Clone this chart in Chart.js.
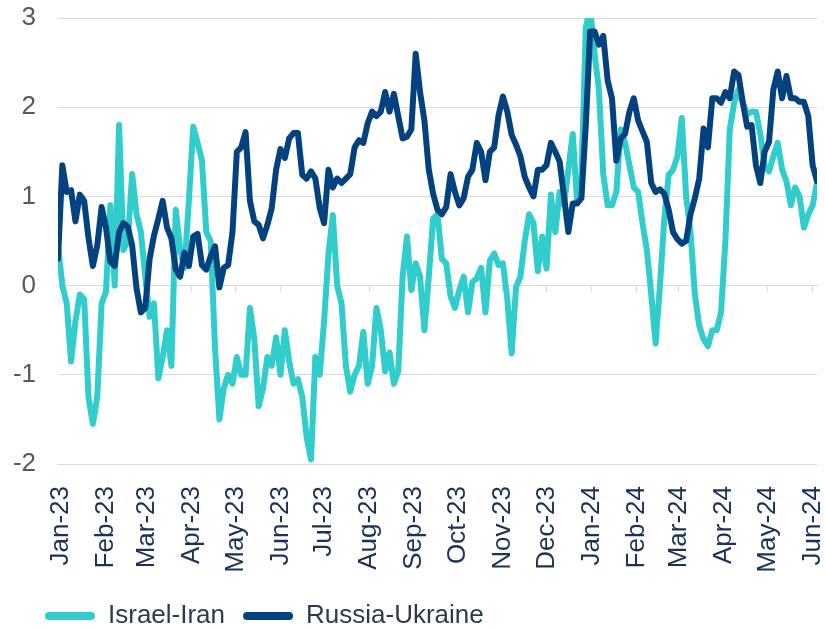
<!DOCTYPE html>
<html>
<head>
<meta charset="utf-8">
<title>Israel-Iran vs Russia-Ukraine</title>
<script src="https://cdn.jsdelivr.net/npm/chart.js@4.4.1/dist/chart.umd.min.js"></script>
<style>
  html, body { margin: 0; padding: 0; background: #ffffff; }
  canvas { display: block; }
</style>
</head>
<body>
<canvas id="chart" width="825" height="629"></canvas>
<script>
// month ticks, in days since 1 Jan 2023
const monthLabels = ['Jan-23', 'Feb-23', 'Mar-23', 'Apr-23', 'May-23', 'Jun-23', 'Jul-23', 'Aug-23', 'Sep-23',
  'Oct-23', 'Nov-23', 'Dec-23', 'Jan-24', 'Feb-24', 'Mar-24', 'Apr-24', 'May-24', 'Jun-24'];
const monthStarts = [0, 31, 59, 90, 120, 151, 181, 212, 243, 273, 304, 334, 365, 396, 425, 456, 486, 517];
const yTicks = [3, 2, 1, 0, -1, -2];

// one reading every 3 days, first one on 30 Dec 2022
const firstDay = -2;
const stepDays = 3;

const israelIran = [
  0.45, 0.0, -0.2, -0.85, -0.4, -0.1, -0.15, -1.26, -1.55, -1.25,
  -0.2, -0.07, 0.9, 0.0, 1.8, 0.4, 0.5, 1.25, 0.8, 0.6,
  0.1, -0.35, -0.2, -1.04, -0.8, -0.5, -0.9, 0.85, 0.4, 0.2,
  0.95, 1.78, 1.6, 1.4, 0.6, 0.5, -0.7, -1.5, -1.15, -1.0,
  -1.1, -0.8, -1.0, -1.0, -0.25, -0.6, -1.35, -1.15, -0.8, -0.9,
  -0.58, -1.0, -0.5, -0.85, -1.1, -1.05, -1.25, -1.7, -1.95, -0.8,
  -1.0, -0.4, 0.35, 0.79, 0.0, -0.2, -0.9, -1.19, -1.0, -0.9,
  -0.52, -1.1, -0.9, -0.25, -0.5, -0.96, -0.75, -1.1, -0.96, 0.1,
  0.55, -0.05, 0.25, 0.1, -0.5, 0.1, 0.75, 0.8, 0.3, 0.25,
  -0.12, -0.25, -0.05, 0.1, -0.3, 0.04, 0.08, 0.2, -0.3, 0.28,
  0.36, 0.23, 0.25, -0.15, -0.76, -0.02, 0.1, 0.5, 0.8, 0.7,
  0.16, 0.55, 0.19, 1.02, 0.6, 1.05, 0.9, 1.3, 1.7, 0.94,
  1.2, 2.9, 3.1, 2.6, 2.2, 1.25, 0.9, 0.9, 1.05, 1.75,
  1.6, 1.35, 1.1, 1.05, 0.7, 0.4, -0.1, -0.65, 0.0, 0.75,
  1.24, 1.3, 1.45, 1.88, 1.0, 0.6, -0.1, -0.45, -0.6, -0.68,
  -0.5, -0.5, -0.3, 0.5, 1.75, 2.05, 2.2, 2.05, 1.92, 1.95,
  1.95, 1.7, 1.35, 1.28, 1.45, 1.6, 1.3, 1.17, 0.9, 1.1,
  1.0, 0.65, 0.8, 0.9, 1.15,
];

const russiaUkraine = [
  0.3, 1.35, 1.05, 1.07, 0.72, 1.02, 0.95, 0.53, 0.22, 0.45,
  0.88, 0.65, 0.27, 0.22, 0.6, 0.7, 0.66, 0.45, -0.03, -0.3,
  -0.25, 0.3, 0.56, 0.75, 0.95, 0.65, 0.53, 0.18, 0.1, 0.37,
  0.22, 0.55, 0.58, 0.23, 0.18, 0.33, 0.44, -0.02, 0.2, 0.23,
  0.6, 1.5, 1.55, 1.72, 0.95, 0.72, 0.68, 0.53, 0.68, 0.87,
  1.3, 1.53, 1.43, 1.65, 1.71, 1.71, 1.24, 1.2, 1.28, 1.2,
  0.87, 0.7, 1.3, 1.1, 1.2, 1.15, 1.2, 1.25, 1.55, 1.63,
  1.6, 1.82, 1.95, 1.9, 1.95, 2.17, 1.95, 2.15, 1.9, 1.65,
  1.67, 1.75, 2.6, 2.17, 1.85, 1.3, 1.03, 0.85, 0.8, 0.88,
  1.25, 1.05, 0.9, 0.98, 1.22, 1.3, 1.6, 1.5, 1.18, 1.5,
  1.55, 1.91, 2.12, 1.95, 1.69, 1.58, 1.45, 1.22, 1.1, 1.0,
  1.3, 1.3, 1.35, 1.6, 1.5, 1.39, 1.0, 0.6, 0.92, 0.92,
  0.98, 1.8, 2.85, 2.85, 2.7, 2.8, 2.3, 2.1, 1.4, 1.65,
  1.7, 1.95, 2.1, 1.85, 1.73, 1.61, 1.15, 1.05, 1.08, 1.03,
  0.85, 0.6, 0.52, 0.47, 0.5, 0.8, 0.98, 1.2, 1.76, 1.55,
  2.1, 2.1, 2.05, 2.17, 2.1, 2.4, 2.36, 2.05, 1.78, 1.8,
  1.35, 1.15, 1.5, 1.61, 2.2, 2.4, 2.1, 2.35, 2.1, 2.1,
  2.06, 2.06, 1.9, 1.35, 1.17,
];

const xMin = -2;
const xMax = 520;
const fontFamily = "'Liberation Sans', Arial, sans-serif";

const toPoints = (values) => values.map((y, i) => ({ x: firstDay + i * stepDays, y }));

const monthTicks = (scale) => {
  scale.ticks = monthStarts.map((value) => ({ value }));
};

// legend starts a bit in from the left edge, as in the source chart
const legendShift = {
  id: 'legendShift',
  afterLayout: (chart) => {
    chart.legend.left += 27;
  },
};

Chart.defaults.font.family = fontFamily;

new Chart(document.getElementById('chart'), {
  type: 'line',
  data: {
    datasets: [
      {
        label: 'Israel-Iran',
        data: toPoints(israelIran),
        borderColor: '#31cccc',
        backgroundColor: '#31cccc',
        borderWidth: 6,
        pointRadius: 0,
        borderJoinStyle: 'round',
        borderCapStyle: 'round',
        order: 1,
        clip: 0,
      },
      {
        label: 'Russia-Ukraine',
        data: toPoints(russiaUkraine),
        borderColor: '#03427e',
        backgroundColor: '#03427e',
        borderWidth: 6,
        pointRadius: 0,
        borderJoinStyle: 'round',
        borderCapStyle: 'round',
        order: 0,
        clip: 0,
      },
    ],
  },
  plugins: [legendShift],
  options: {
    responsive: false,
    animation: false,
    layout: {
      padding: { left: 0, right: 8, top: 18, bottom: -10 },
    },
    plugins: {
      tooltip: { enabled: false },
      legend: {
        position: 'bottom',
        align: 'start',
        labels: {
          boxWidth: 50,
          boxHeight: 8,
          padding: 18,
          useBorderRadius: true,
          borderRadius: 4,
          color: '#2e3a4b',
          font: { size: 26 },
          sort: (a, b) => a.datasetIndex - b.datasetIndex,
          generateLabels: (chart) =>
            Chart.defaults.plugins.legend.labels
              .generateLabels(chart)
              .map((item) => ({ ...item, lineWidth: 0 })),
        },
      },
    },
    scales: {
      x: {
        type: 'linear',
        min: xMin,
        max: xMax,
        afterBuildTicks: monthTicks,
        afterFit: (scale) => {
          scale.height = 121;
          scale.paddingLeft = 0;
          scale.paddingRight = 0;
        },
        grid: { display: false },
        border: { display: false },
        ticks: {
          autoSkip: false,
          minRotation: 90,
          maxRotation: 90,
          padding: 14,
          color: '#1c3159',
          font: { size: 26 },
          callback: (value, index) => monthLabels[index],
        },
      },
      // axis line with month tick marks at y = 0
      x2: {
        type: 'linear',
        axis: 'x',
        position: { y: 0 },
        min: xMin,
        max: xMax,
        afterBuildTicks: monthTicks,
        afterFit: (scale) => {
          scale.paddingLeft = 0;
          scale.paddingRight = 0;
        },
        ticks: { display: false },
        grid: { drawOnChartArea: false, drawTicks: true, tickLength: 6, color: '#d9d9d9' },
        border: { display: true, color: '#d9d9d9', width: 1 },
      },
      y: {
        min: -2,
        max: 3,
        afterBuildTicks: (scale) => {
          scale.ticks = yTicks.map((value) => ({ value }));
        },
        afterFit: (scale) => {
          scale.width = 58;
          scale.paddingTop = 0;
          scale.paddingBottom = 0;
        },
        grid: { color: '#d9d9d9', drawTicks: false },
        border: { display: false },
        ticks: {
          padding: 22,
          color: '#595959',
          font: { size: 26 },
        },
      },
    },
  },
});
</script>
</body>
</html>
